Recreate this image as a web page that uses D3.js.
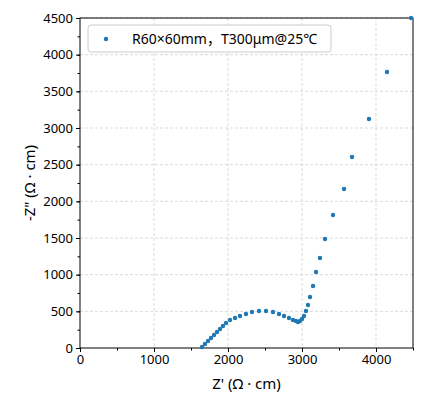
<!DOCTYPE html><html><head><meta charset="utf-8"><script src="https://cdn.jsdelivr.net/npm/d3@7"></script>
<style>body{margin:0;background:#fff}text{font-family:"Noto Sans","Noto Sans CJK SC",sans-serif}</style></head><body><svg id="c" width="424" height="403"></svg><script>
const zr=[1649,1689,1730,1770,1811,1851,1892,1932,1973,2027,2095,2162,2243,2324,2419,2514,2608,2689,2757,2824,2878,2919,2946,2973,3000,3027,3054,3081,3108,3149,3189,3243,3311,3419,3568,3676,3905,4149,4473];
const zi=[14,55,95,136,177,218,259,300,341,382,409,436,464,491,505,505,491,464,436,409,382,368,355,368,395,436,505,586,695,845,1036,1227,1486,1814,2168,2605,3123,3764,4500];
const xTicks=[0,1000,2000,3000,4000], yTicks=d3.range(0,4501,500);
const label="R60×60mm，T300μm@25℃";
const svg=d3.select("#c"),L=80,R=413,T=18,B=348;
const x=d3.scaleLinear([0,4500],[L,R]),y=d3.scaleLinear([0,4500],[B,T]);
const g=svg.append("g");
g.selectAll(".gx").data(xTicks.slice(1)).join("line").attr("x1",d=>x(d)).attr("x2",d=>x(d)).attr("y1",T).attr("y2",B).attr("stroke","#ccc").attr("stroke-dasharray","3,2").attr("stroke-width",0.7);
g.selectAll(".gy").data(yTicks.slice(1)).join("line").attr("y1",d=>y(d)).attr("y2",d=>y(d)).attr("x1",L).attr("x2",R).attr("stroke","#ccc").attr("stroke-dasharray","3,2").attr("stroke-width",0.7);
svg.append("g").attr("transform",`translate(0,${B})`).call(d3.axisBottom(x).tickValues(xTicks).tickSize(4).tickFormat(d3.format("d")));
svg.append("g").attr("transform",`translate(0,${B})`).call(d3.axisBottom(x).tickValues(d3.range(0,4501,500)).tickSize(2.5).tickFormat(""));
svg.append("g").attr("transform",`translate(${L},0)`).call(d3.axisLeft(y).tickValues(yTicks).tickSize(4).tickFormat(d3.format("d")));
svg.append("g").attr("transform",`translate(${L},0)`).call(d3.axisLeft(y).tickValues(d3.range(0,4501,250)).tickSize(2.5).tickFormat(""));
svg.selectAll(".domain").remove();
svg.selectAll(".tick text").attr("font-size",13).attr("fill","#000");
svg.append("rect").attr("x",L).attr("y",T).attr("width",R-L).attr("height",B-T).attr("fill","none").attr("stroke","#000");
svg.append("g").selectAll("circle").data(zr).join("circle").attr("cx",d=>x(d)).attr("cy",(d,i)=>y(zi[i])).attr("r",2.2).attr("fill","#1f77b4");
svg.append("rect").attr("x",88).attr("y",25).attr("width",243).attr("height",27).attr("rx",3).attr("fill","#fff").attr("stroke","#ccc");
svg.append("circle").attr("cx",106).attr("cy",39).attr("r",2.2).attr("fill","#1f77b4");
svg.append("text").attr("x",132).attr("y",44).attr("font-size",14).text(label);
svg.append("text").attr("x",(L+R)/2).attr("y",389).attr("text-anchor","middle").attr("font-size",15).text("Z' (Ω · cm)");
svg.append("text").attr("transform",`translate(35,${(T+B)/2}) rotate(-90)`).attr("text-anchor","middle").attr("font-size",15).text('-Z" (Ω · cm)');
</script></body></html>
